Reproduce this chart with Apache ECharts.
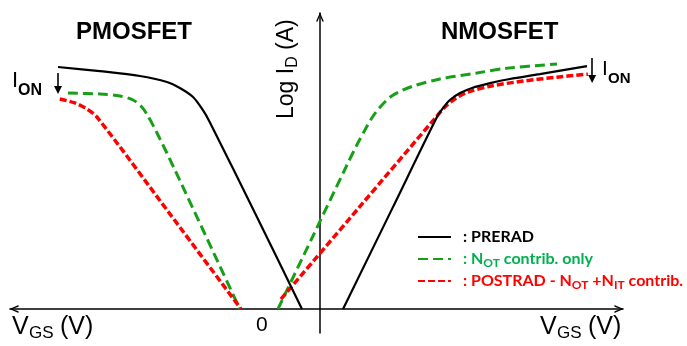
<!DOCTYPE html>
<html><head><meta charset="utf-8">
<script src="https://cdn.jsdelivr.net/npm/echarts@6/dist/echarts.min.js"></script>
<style>html,body{margin:0;padding:0;background:#fff}#c{width:687px;height:346px}</style>
</head><body><div id="c"></div>
<script>
// Schematic I-V curves, arbitrary units: x = V_GS, y = log I_D
const pmosPrerad = [[-8.73,8.07],[-7.33,7.93],[-6.0,7.77],[-5.1,7.57],[-4.67,7.37],[-4.23,7.07],[-3.9,6.63],[-3.67,6.23],[-2.1,3.07],[-0.6,0]];
const pmosNot    = [[-8.4,7.2],[-7.33,7.17],[-6.67,7.1],[-6.23,6.97],[-5.93,6.73],[-5.73,6.43],[-5.43,5.87],[-4.83,4.63],[-2.67,0]];
const pmosPost   = [[-8.67,7.0],[-8.17,6.87],[-7.77,6.67],[-7.43,6.4],[-5.0,3.17],[-2.63,0]];
const nmosPrerad = [[0.77,0],[2.4,3.33],[3.9,6.4],[4.1,6.7],[4.33,6.97],[4.67,7.2],[5.07,7.37],[5.67,7.53],[6.33,7.67],[7.33,7.83],[8.9,8.1]];
const nmosNot    = [[-1.4,0],[-0.25,2.4],[0.9,4.8],[1.23,5.47],[1.5,5.97],[1.73,6.37],[2.0,6.73],[2.43,7.13],[3.1,7.43],[4.0,7.67],[5.23,7.87],[6.23,8.03],[7.9,8.17]];
const nmosPost   = [[-1.3,0.33],[1.3,3.38],[3.93,6.47],[4.2,6.77],[4.53,7.03],[4.93,7.23],[5.67,7.43],[6.77,7.6],[7.9,7.73],[8.93,7.83]];
// I_ON shift arrows (start, end) in data units
const ionArrowLeft  = [[-8.73,7.87],[-8.73,7.3]];
const ionArrowRight = [[9.07,8.37],[9.07,7.67]];
const seriesNames = ['PRERAD','NOT','POSTRAD'];
const titles = ['PMOSFET','NMOSFET'];

const C = {black:'#000000', green:'#17a017', red:'#ff0000', gtext:'#00b050'};
const sansFont = '"Liberation Sans", Arial, sans-serif';
const legFont = 'Lato, "Open Sans", sans-serif';

const chart = echarts.init(document.getElementById('c'), null, {renderer:'canvas'});
const chevron = 'path://M0,80 L35,0 L70,80 L56,80 L35,24 L14,80 Z';

function mkSeries(name, data, style, extra) {
  return Object.assign({
    type:'line', name, data, smooth:0.3, symbol:'none', silent:true,
    lineStyle: style, itemStyle:{color:style.color}, z: style.z || 2
  }, extra || {});
}
const sBlack = {color:C.black, width:2.2, type:'solid', z:3};
const sGreen = {color:C.green, width:3, type:[10,5], z:2};
const sRed   = {color:C.red, width:3.5, type:[7,3], z:2};

const ionMark = {
  silent:true, animation:false, symbol:['none','triangle'], symbolSize:8,
  label:{show:false}, lineStyle:{color:'#000', width:1.6, type:'solid'},
  data:[ [{coord:ionArrowLeft[0]},{coord:ionArrowLeft[1]}], [{coord:ionArrowRight[0]},{coord:ionArrowRight[1]}] ]
};

const subRich = {
  sub:{fontSize:12, fontFamily:legFont, fontWeight:'bold', padding:[9,0,0,0]},
  g:{width:7}
};

chart.setOption({
  animation:false,
  backgroundColor:'#fff',
  title:[
    {text:titles[0], left:71, top:15, textStyle:{fontFamily:sansFont, fontWeight:'bold', fontSize:24, color:'#000'}},
    {text:titles[1], left:436, top:15, textStyle:{fontFamily:sansFont, fontWeight:'bold', fontSize:24, color:'#000'}}
  ],
  grid:{left:10, right:64, top:13, bottom:13},
  xAxis:{type:'value', min:-10.33, max:10.1,
    axisLine:{onZero:true, symbol:[chevron, chevron], symbolSize:[8,9], symbolOffset:[4,-4], lineStyle:{color:'#000', width:1.5}},
    axisTick:{show:false}, axisLabel:{show:false}, splitLine:{show:false}},
  yAxis:{type:'value', min:-0.8, max:9.87,
    axisLine:{show:true, onZero:true, symbol:['none', chevron], symbolSize:[8,9], symbolOffset:[0,-4], lineStyle:{color:'#000', width:1.5}},
    axisTick:{show:false}, axisLabel:{show:false}, splitLine:{show:false}},
  legend:{
    orient:'vertical', left:412, top:221, itemWidth:33, itemHeight:12, itemGap:0,
    selectedMode:false, itemStyle:{opacity:0},
    data:[
      {name:seriesNames[0], textStyle:{color:C.black}},
      {name:seriesNames[1], textStyle:{color:C.gtext}},
      {name:seriesNames[2], textStyle:{color:C.red}}
    ],
    formatter:function(n){
      if (n === 'PRERAD') return '{g|}: PRERAD';
      if (n === 'NOT') return '{g|}: N{sub|OT} contrib. only';
      return '{g|}: POSTRAD - N{sub|OT} +N{sub|IT} contrib.';
    },
    textStyle:{fontFamily:legFont, fontWeight:'bold', fontSize:16, lineHeight:22, rich:subRich}
  },
  graphic:[
    {type:'text', left:12, top:315, style:{text:'V', font:'25px '+sansFont, fill:'#000'}},
    {type:'text', left:29, top:325, style:{text:'GS', font:'17px '+sansFont, fill:'#000'}},
    {type:'text', left:60, top:315, style:{text:'(V)', font:'25px '+sansFont, fill:'#000'}},
    {type:'text', left:540, top:315, style:{text:'V', font:'25px '+sansFont, fill:'#000'}},
    {type:'text', left:557, top:325, style:{text:'GS', font:'17px '+sansFont, fill:'#000'}},
    {type:'text', left:588, top:315, style:{text:'(V)', font:'25px '+sansFont, fill:'#000'}},
    {type:'text', left:256, top:315, style:{text:'0', font:'21px '+sansFont, fill:'#000'}},
    {type:'text', left:12, top:70, style:{text:'I', font:'22px '+sansFont, fill:'#000'}},
    {type:'text', left:18, top:83, style:{text:'ON', font:'bold 16px '+sansFont, fill:'#000'}},
    {type:'text', left:602, top:59, style:{text:'I', font:'21px '+sansFont, fill:'#000'}},
    {type:'text', left:608, top:71, style:{text:'ON', font:'bold 15px '+sansFont, fill:'#000'}},
    {type:'text', x:287, y:119, rotation:Math.PI/2,
      style:{text:'Log I{d|D} (A)', align:'left', verticalAlign:'middle', font:'23px '+sansFont, fill:'#000',
        rich:{d:{fontSize:16, fontFamily:sansFont, padding:[12,0,0,0]}}}}
  ],
  series:[
    mkSeries(seriesNames[0], pmosPrerad, sBlack, {markLine:ionMark}),
    mkSeries(seriesNames[1], pmosNot, sGreen),
    mkSeries(seriesNames[2], pmosPost, sRed),
    mkSeries(seriesNames[0], nmosPrerad, sBlack),
    mkSeries(seriesNames[1], nmosNot, sGreen),
    mkSeries(seriesNames[2], nmosPost, sRed)
  ]
});
</script></body></html>
